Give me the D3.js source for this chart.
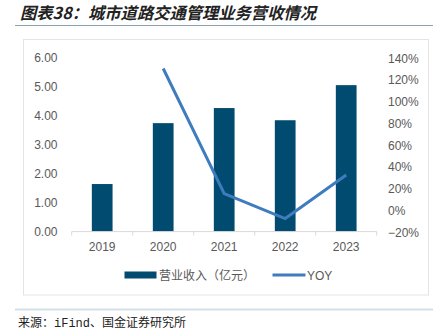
<!DOCTYPE html>
<html><head><meta charset="utf-8">
<script src="https://cdn.jsdelivr.net/npm/d3@7"></script>
<style>body{margin:0;background:#fff}svg{display:block}</style>
</head><body><svg id="c" width="433" height="331"></svg>
<script>
const categories = ["2019","2020","2021","2022","2023"];
const revenue = [1.64, 3.74, 4.26, 3.84, 5.05];
const yoy = [null, 1.30, 0.15, -0.08, 0.32];
const leftTicks = [0,1,2,3,4,5,6];
const rightTicks = [-0.2,0,0.2,0.4,0.6,0.8,1.0,1.2,1.4];
const title = "图表38：城市道路交通管理业务营收情况";
const source = "来源：iFind、国金证券研究所";
const seriesNames = ["营业收入（亿元）","YOY"];

const svg = d3.select("#c");
const font = "'Liberation Sans', Arial, sans-serif";
const cjk = "'Noto Sans CJK SC', sans-serif";
const textColor = "#595959";

// title
svg.append("text").attr("x",20).attr("y",19).text(title)
  .attr("font-family",cjk).attr("font-size",16.3).attr("font-weight","bold")
  .attr("font-style","italic").attr("fill","#222");
svg.append("line").attr("x1",15).attr("x2",433).attr("y1",25.5).attr("y2",25.5)
  .attr("stroke","#8aa3b0").attr("stroke-width",1);
// frame
svg.append("rect").attr("x",23.5).attr("y",39.5).attr("width",405).attr("height",255.5)
  .attr("fill","none").attr("stroke","#e4e4e4");
// bottom rule
svg.append("line").attr("x1",15).attr("x2",433).attr("y1",309.5).attr("y2",309.5)
  .attr("stroke","#d3e0e8").attr("stroke-width",2);
svg.append("text").attr("x",18).attr("y",327).text(source)
  .attr("font-family","'Liberation Mono', 'Noto Sans CJK SC', monospace").attr("font-size",12).attr("fill","#222");

const x = d3.scaleBand().domain(categories).range([71.7,376.7]).paddingInner(0.66).paddingOuter(0.33);
const xb = d3.scaleBand().domain(categories).range([71.7,376.7]);
const yL = d3.scaleLinear().domain([0,6]).range([231.6,57.6]);
const yR = d3.scaleLinear().domain([-0.2,1.4]).range([231.6,57.6]);

// bars
svg.append("g").selectAll("rect").data(revenue).join("rect")
  .attr("x",(d,i)=>x(categories[i])).attr("width",x.bandwidth())
  .attr("y",d=>yL(d)).attr("height",d=>yL(0)-yL(d)).attr("fill","#014b70");

// x axis
const gx = svg.append("g").attr("transform",`translate(0,${yL(0)})`);
gx.append("line").attr("x1",71.7).attr("x2",376.7).attr("stroke","#d9d9d9");
gx.selectAll(".tk").data(categories.concat(["end"])).join("line")
  .attr("x1",(d,i)=>71.7+i*xb.step()).attr("x2",(d,i)=>71.7+i*xb.step())
  .attr("y1",0).attr("y2",4).attr("stroke","#d9d9d9");
gx.selectAll("text").data(categories).join("text")
  .attr("x",d=>xb(d)+xb.bandwidth()/2).attr("y",19).attr("text-anchor","middle")
  .attr("font-family",font).attr("font-size",12).attr("fill",textColor).text(d=>d);

// left axis labels
svg.append("g").selectAll("text").data(leftTicks).join("text")
  .attr("x",57.5).attr("y",d=>yL(d)+4.2).attr("text-anchor","end")
  .attr("font-family",font).attr("font-size",12).attr("fill",textColor)
  .text(d=>d3.format(".2f")(d));
// right axis labels
svg.append("g").selectAll("text").data(rightTicks).join("text")
  .attr("x",388).attr("y",d=>yR(d)+5).attr("text-anchor","start")
  .attr("font-family",font).attr("font-size",12).attr("fill",textColor)
  .text(d=>d3.format(".0%")(d));

// line
const line = d3.line().defined(d=>d.v!==null)
  .x(d=>xb(d.c)+xb.bandwidth()/2).y(d=>yR(d.v));
svg.append("path").datum(categories.map((c,i)=>({c,v:yoy[i]})))
  .attr("d",line).attr("fill","none").attr("stroke","#3f7cbf").attr("stroke-width",3);

// legend
const lg = svg.append("g");
lg.append("rect").attr("x",124.5).attr("y",271.5).attr("width",32).attr("height",7).attr("fill","#014b70");
lg.append("text").attr("x",159).attr("y",279.5).text(seriesNames[0])
  .attr("font-family",cjk).attr("font-size",12).attr("fill",textColor);
lg.append("line").attr("x1",272.5).attr("x2",305.5).attr("y1",275).attr("y2",275)
  .attr("stroke","#3f7cbf").attr("stroke-width",3);
lg.append("text").attr("x",307).attr("y",279.5).text(seriesNames[1])
  .attr("font-family",font).attr("font-size",12).attr("fill",textColor);
</script></body></html>
